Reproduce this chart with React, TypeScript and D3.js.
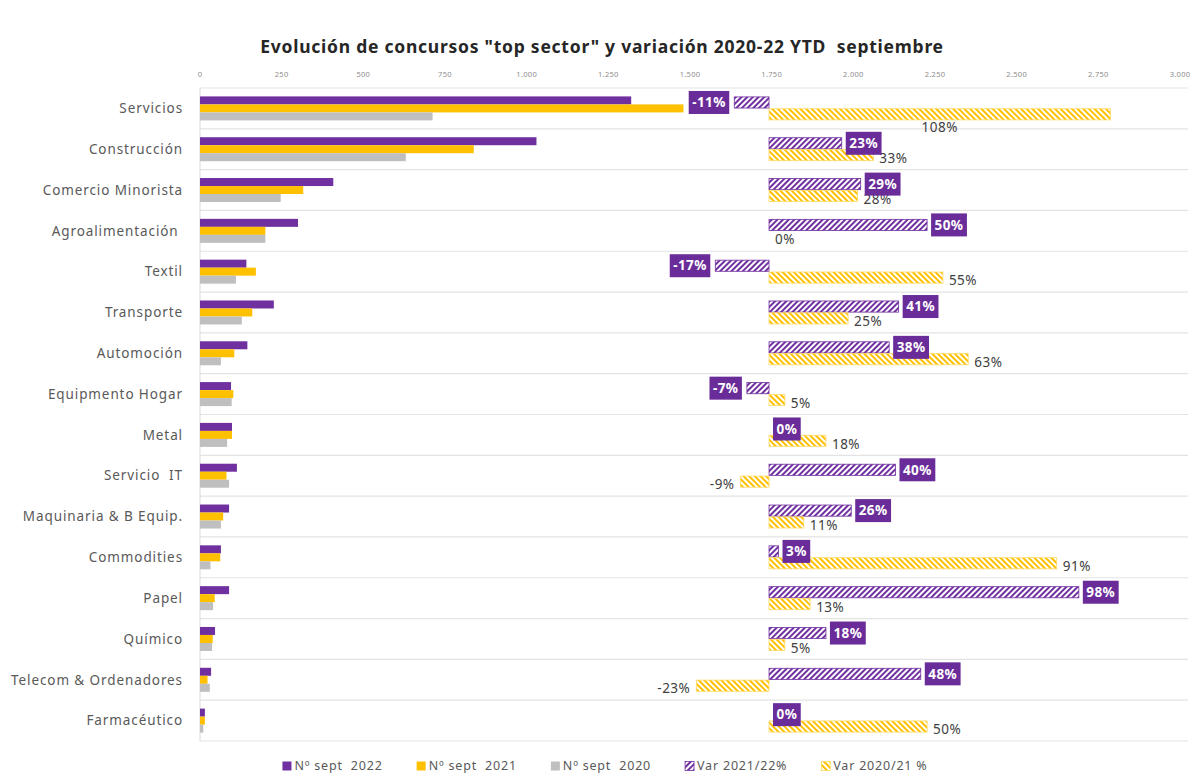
import { useEffect, useRef } from 'react';
import * as d3 from 'd3';

// Sectores (orden de arriba abajo)
const sectors = [
  "Servicios", "Construcción", "Comercio Minorista", "Agroalimentación ", "Textil",
  "Transporte", "Automoción", "Equipmento Hogar", "Metal", "Servicio  IT",
  "Maquinaria & B Equip.", "Commodities", "Papel", "Químico", "Telecom & Ordenadores", "Farmacéutico",
];

// Nº de concursos YTD septiembre
const sept2022 = [1320, 1030, 408, 300, 142, 226, 145, 95, 98, 113, 89, 64, 89, 46, 34, 15];
const sept2021 = [1480, 838, 316, 200, 171, 160, 105, 102, 98, 81, 71, 62, 45, 39, 23, 15];
const sept2020 = [712, 630, 247, 200, 110, 128, 64, 97, 83, 89, 64, 32, 40, 37, 30, 10];

// Variaciones (eje secundario)
const var2122 = [-0.11, 0.23, 0.29, 0.50, -0.17, 0.41, 0.38, -0.07, 0.0, 0.40, 0.26, 0.03, 0.98, 0.18, 0.48, 0.0];
const var2021 = [1.08, 0.33, 0.28, 0.0, 0.55, 0.25, 0.63, 0.05, 0.18, -0.09, 0.11, 0.91, 0.13, 0.05, -0.23, 0.50];

const xTicks = [0, 250, 500, 750, 1000, 1250, 1500, 1750, 2000, 2250, 2500, 2750, 3000];

const legendLabels = ["Nº sept  2022", "Nº sept  2021", "Nº sept  2020", "Var 2021/22%", "Var 2020/21 %"];

const PURPLE = "#7030a0";
const YELLOW = "#ffc000";
const GREY = "#bfbfbf";
const FONT = "'Noto Sans', sans-serif";

export default function App() {
  const svgRef = useRef<SVGSVGElement>(null);

  useEffect(() => {
    if (!svgRef.current) return;
    const svg = d3.select(svgRef.current);
    svg.selectAll("*").remove();

    const W = 1204, H = 776;
    const left = 200, right = 1180, top = 88, bottom = 741;

    const x = d3.scaleLinear().domain([0, 3000]).range([left, right]);
    const x2 = d3.scaleLinear().domain([-1.8, 1.3]).range([left, right]);
    const y = d3.scaleBand<string>().domain(sectors).range([top, bottom]);
    const sub = d3.scaleBand<string>().domain(["2022", "2021", "2020"]).range([-12, 12]);
    const sub2 = d3.scaleBand<string>().domain(["v22", "v21"]).range([-11.5, 11.5]).paddingInner(0.06);

    const defs = svg.append("defs");
    const hatch = (id: string, color: string, angle: number) => {
      const p = defs.append("pattern")
        .attr("id", id)
        .attr("patternUnits", "userSpaceOnUse")
        .attr("width", 4).attr("height", 4)
        .attr("patternTransform", `rotate(${angle})`);
      p.append("rect").attr("width", 4).attr("height", 4).attr("fill", "#fff");
      p.append("line").attr("x1", 1).attr("y1", 0).attr("x2", 1).attr("y2", 4)
        .attr("stroke", color).attr("stroke-width", 2);
    };
    hatch("hatchPurple", PURPLE, 45);
    hatch("hatchYellow", YELLOW, -45);

    svg.append("rect").attr("width", W).attr("height", H).attr("fill", "#fff");

    // Título
    svg.append("text")
      .attr("x", 602).attr("y", 53)
      .attr("text-anchor", "middle")
      .attr("xml:space", "preserve")
      .style("white-space", "pre")
      .style("font-family", FONT)
      .style("font-size", "17.5px")
      .style("letter-spacing", "0.75px")
      .style("font-weight", "bold")
      .style("fill", "#262626")
      .text('Evolución de concursos "top sector" y variación 2020-22 YTD  septiembre');

    // Eje superior
    svg.append("g")
      .selectAll("text")
      .data(xTicks)
      .enter()
      .append("text")
      .attr("x", d => x(d))
      .attr("y", 77)
      .attr("text-anchor", "middle")
      .style("font-family", FONT)
      .style("font-size", "7.5px")
      .style("letter-spacing", "0.3px")
      .style("fill", "#8c8c8c")
      .text(d => d3.format(",")(d).replace(/,/g, "."));

    // Líneas de separación
    const bounds = d3.range(sectors.length + 1).map(i => top + i * y.step());
    svg.append("g")
      .selectAll("line")
      .data(bounds)
      .enter()
      .append("line")
      .attr("x1", left).attr("x2", right + 8)
      .attr("y1", d => d).attr("y2", d => d)
      .attr("stroke", "#e3e3e3").attr("stroke-width", 1.2);

    svg.append("line")
      .attr("x1", left).attr("x2", left)
      .attr("y1", top).attr("y2", bottom)
      .attr("stroke", "#d9d9d9").attr("stroke-width", 1);

    // Etiquetas de categoría
    svg.append("g")
      .selectAll("text")
      .data(sectors)
      .enter()
      .append("text")
      .attr("x", 183)
      .attr("y", d => (y(d) as number) + y.bandwidth() / 2)
      .attr("dy", "0.35em")
      .attr("text-anchor", "end")
      .attr("xml:space", "preserve")
      .style("white-space", "pre")
      .style("font-family", FONT)
      .style("font-size", "13.5px")
      .style("letter-spacing", "0.9px")
      .style("fill", "#595959")
      .text(d => d);

    const center = (i: number) => (y(sectors[i]) as number) + y.bandwidth() / 2;

    // Barras primarias
    const primary = [
      { key: "2022", values: sept2022, color: PURPLE },
      { key: "2021", values: sept2021, color: YELLOW },
      { key: "2020", values: sept2020, color: GREY },
    ];
    primary.forEach(s => {
      svg.append("g")
        .selectAll("rect")
        .data(s.values)
        .enter()
        .append("rect")
        .attr("x", x(0))
        .attr("y", (_, i) => center(i) + (sub(s.key) as number))
        .attr("width", d => x(d) - x(0))
        .attr("height", sub.bandwidth())
        .attr("fill", s.color);
    });

    // Barras secundarias (variaciones)
    const secondary = [
      { key: "v22", values: var2122, fill: "url(#hatchPurple)", stroke: PURPLE },
      { key: "v21", values: var2021, fill: "url(#hatchYellow)", stroke: "#ffd966" },
    ];
    secondary.forEach(s => {
      svg.append("g")
        .selectAll("rect")
        .data(s.values)
        .enter()
        .append("rect")
        .attr("x", d => Math.min(x2(0), x2(d)))
        .attr("y", (_, i) => center(i) + (sub2(s.key) as number))
        .attr("width", d => Math.abs(x2(d) - x2(0)))
        .attr("height", sub2.bandwidth())
        .attr("fill", s.fill)
        .attr("stroke", s.stroke)
        .attr("stroke-width", 0.8);
    });

    const pct = (v: number) => `${Math.round(v * 100)}%`;

    // Etiquetas Var 2020/21 (texto gris)
    const yLab = svg.append("g");
    var2021.forEach((v, i) => {
      const yc = center(i) + (sub2("v21") as number) + sub2.bandwidth() / 2;
      const t = yLab.append("text")
        .style("font-family", FONT)
        .style("font-size", "13.5px")
        .style("letter-spacing", "0.5px")
        .style("fill", "#404040")
        .attr("dy", "0.35em")
        .text(pct(v));
      const end = x2(v);
      if (v < 0) {
        t.attr("x", end - 6).attr("y", yc + 3).attr("text-anchor", "end");
      } else if (end + 40 > right - 60) {
        // no cabe: debajo de la barra, centrada
        t.attr("x", (x2(0) + end) / 2).attr("y", yc + 13).attr("text-anchor", "middle");
      } else {
        t.attr("x", end + 6).attr("y", yc + 3).attr("text-anchor", "start");
      }
    });

    // Etiquetas Var 2021/22 (recuadro morado)
    const pLab = svg.append("g");
    var2122.forEach((v, i) => {
      const yc = center(i) + (sub2("v22") as number) + sub2.bandwidth() / 2;
      const g = pLab.append("g");
      const t = g.append("text")
        .attr("y", yc)
        .attr("dy", "0.35em")
        .style("font-family", FONT)
        .style("font-size", "13.5px")
        .style("letter-spacing", "0.4px")
        .style("font-weight", "bold")
        .style("fill", "#fff")
        .text(pct(v));
      const w = (t.node() as SVGTextElement).getComputedTextLength() + 7;
      const end = x2(v);
      const bx = v < 0 ? end - 5 - w : end + 4;
      t.attr("x", bx + 3.5);
      g.insert("rect", "text")
        .attr("x", bx).attr("y", yc - 11.5)
        .attr("width", w).attr("height", 23)
        .attr("fill", "#6a2c99");
    });

    // Leyenda
    const legend = svg.append("g");
    const swatches = [PURPLE, YELLOW, GREY, "url(#hatchPurple)", "url(#hatchYellow)"];
    const strokes = ["none", "none", "none", PURPLE, "#ffd966"];
    const gap = 34;
    let lx = 0;
    legendLabels.forEach((lab, i) => {
      const g = legend.append("g").attr("transform", `translate(${lx},0)`);
      g.append("rect").attr("x", 0).attr("y", -4.5).attr("width", 9).attr("height", 9)
        .attr("fill", swatches[i]).attr("stroke", strokes[i]).attr("stroke-width", 0.8);
      const t = g.append("text")
        .attr("x", 12).attr("y", 0).attr("dy", "0.35em")
        .attr("xml:space", "preserve")
        .style("white-space", "pre")
        .style("font-family", FONT)
        .style("font-size", "12.5px")
        .style("letter-spacing", "0.8px")
        .style("fill", "#595959")
        .text(lab);
      lx += 12 + (t.node() as SVGTextElement).getComputedTextLength() + gap;
    });
    const lw = lx - gap;
    legend.attr("transform", `translate(${605 - lw / 2},766)`);
  }, []);

  return (
    <div style={{ position: "absolute", left: 0, top: 0 }}>
      <svg ref={svgRef} width={1204} height={776} style={{ display: "block" }} />
    </div>
  );
}
